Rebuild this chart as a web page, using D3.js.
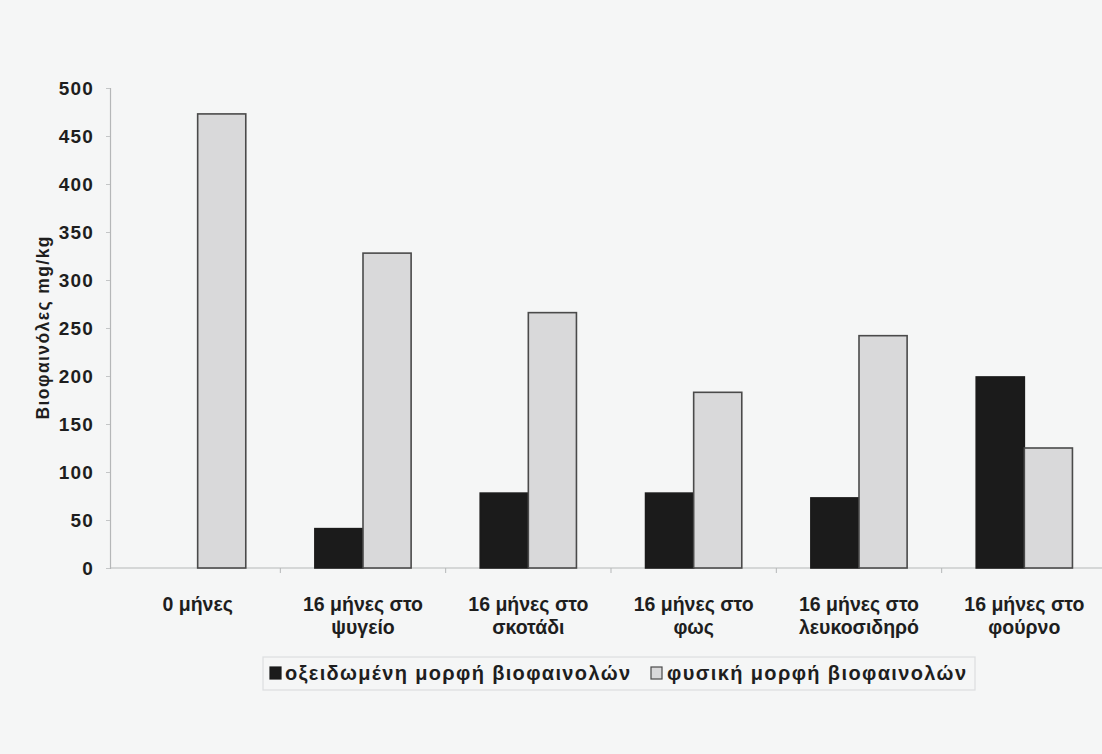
<!DOCTYPE html>
<html>
<head>
<meta charset="utf-8">
<script src="https://cdn.jsdelivr.net/npm/d3@7"></script>
<style>
  html, body { margin: 0; padding: 0; background: #f5f6f6; }
  svg { display: block; }
  text { font-family: "Liberation Sans", Arial, sans-serif; font-weight: bold; fill: #1e1e1e; }
</style>
</head>
<body>
<svg id="chart" width="1102" height="754"></svg>
<script>
// Biophenol content (mg/kg) after storage under different conditions
const categories = [
  ["0 μήνες"],
  ["16 μήνες στο", "ψυγείο"],
  ["16 μήνες στο", "σκοτάδι"],
  ["16 μήνες στο", "φως"],
  ["16 μήνες στο", "λευκοσιδηρό"],
  ["16 μήνες στο", "φούρνο"]
];
const seriesNames = ["οξειδωμένη μορφή βιοφαινολών", "φυσική μορφή βιοφαινολών"];
const oxidized = [0, 41, 78, 78, 73, 199];
const natural = [473, 328, 266, 183, 242, 125];
const yTicks = [0, 50, 100, 150, 200, 250, 300, 350, 400, 450, 500];
const yTitle = "Βιοφαινόλες mg/kg";

const svg = d3.select("#chart");
const fills = ["#1b1b1b", "#d9d9da"];
const strokes = ["#1b1b1b", "#4a4a4a"];

const x0 = d3.scaleBand()
  .domain(d3.range(categories.length))
  .range([115, 1107])
  .paddingInner(0.418)
  .paddingOuter(0.209);
const x1 = d3.scaleBand()
  .domain([0, 1])
  .range([0, x0.bandwidth()]);
const y = d3.scaleLinear().domain([0, 500]).range([568, 88]);

// y axis
const yAxis = d3.axisLeft(y).tickValues(yTicks).tickSize(4).tickPadding(12);
const gy = svg.append("g").attr("transform", "translate(110,0)").call(yAxis);
gy.select(".domain").attr("stroke", "#b5b7b8").attr("stroke-width", 1.2);
gy.selectAll(".tick line").attr("stroke", "#c4c6c7");
gy.selectAll(".tick text")
  .style("font-size", "19px")
  .style("letter-spacing", "1.2px")
  .attr("fill", "#1e1e1e");

// x axis baseline with boundary ticks
svg.append("line")
  .attr("x1", 110).attr("x2", 1102)
  .attr("y1", y(0)).attr("y2", y(0))
  .attr("stroke", "#b5b7b8").attr("stroke-width", 1.2);
const step = x0.step();
svg.append("g").selectAll("line")
  .data(d3.range(1, categories.length))
  .join("line")
  .attr("x1", i => x0(i) - x0.paddingInner() * step / 2)
  .attr("x2", i => x0(i) - x0.paddingInner() * step / 2)
  .attr("y1", y(0)).attr("y2", y(0) + 5)
  .attr("stroke", "#b5b7b8");

// bars
const data = categories.map((c, i) => [oxidized[i], natural[i]]);
const groups = svg.append("g").selectAll("g")
  .data(data)
  .join("g")
  .attr("transform", (d, i) => `translate(${x0(i)},0)`);
groups.selectAll("rect")
  .data(d => d.map((v, s) => ({ v, s })))
  .join("rect")
  .filter(d => d.v > 0)
  .attr("x", d => x1(d.s))
  .attr("width", x1.bandwidth())
  .attr("y", d => y(d.v))
  .attr("height", d => y(0) - y(d.v))
  .attr("fill", d => fills[d.s])
  .attr("stroke", d => strokes[d.s])
  .attr("stroke-width", 1.6);

// category labels
const labels = svg.append("g").selectAll("text")
  .data(categories)
  .join("text")
  .attr("text-anchor", "middle")
  .attr("x", (d, i) => x0(i) + x0.bandwidth() / 2)
  .attr("y", 611)
  .style("font-size", "19.5px");
labels.selectAll("tspan")
  .data(d => d)
  .join("tspan")
  .attr("x", function () { return this.parentNode.getAttribute("x"); })
  .attr("dy", (d, i) => i === 0 ? 0 : 23)
  .text(d => d);

// y axis title
svg.append("text")
  .attr("transform", "translate(49,328) rotate(-90)")
  .attr("text-anchor", "middle")
  .attr("textLength", 183)
  .attr("lengthAdjust", "spacing")
  .style("font-size", "17.5px")
  .text(yTitle);

// legend
const legend = svg.append("g");
legend.append("rect")
  .attr("x", 263).attr("y", 657)
  .attr("width", 712).attr("height", 33)
  .attr("fill", "none")
  .attr("stroke", "#dcdedf").attr("stroke-width", 1.2);
const legendItems = [
  { x: 270, tx: 285, len: 345, name: seriesNames[0], s: 0 },
  { x: 651, tx: 667, len: 299, name: seriesNames[1], s: 1 }
];
legendItems.forEach(it => {
  legend.append("rect")
    .attr("x", it.x).attr("y", 667)
    .attr("width", 11).attr("height", 12)
    .attr("fill", fills[it.s])
    .attr("stroke", strokes[it.s]).attr("stroke-width", 1.2);
  legend.append("text")
    .attr("x", it.tx).attr("y", 680)
    .attr("textLength", it.len)
    .attr("lengthAdjust", "spacing")
    .style("font-size", "20px")
    .attr("fill", "#1a1a1a")
    .text(it.name);
});
</script>
</body>
</html>
